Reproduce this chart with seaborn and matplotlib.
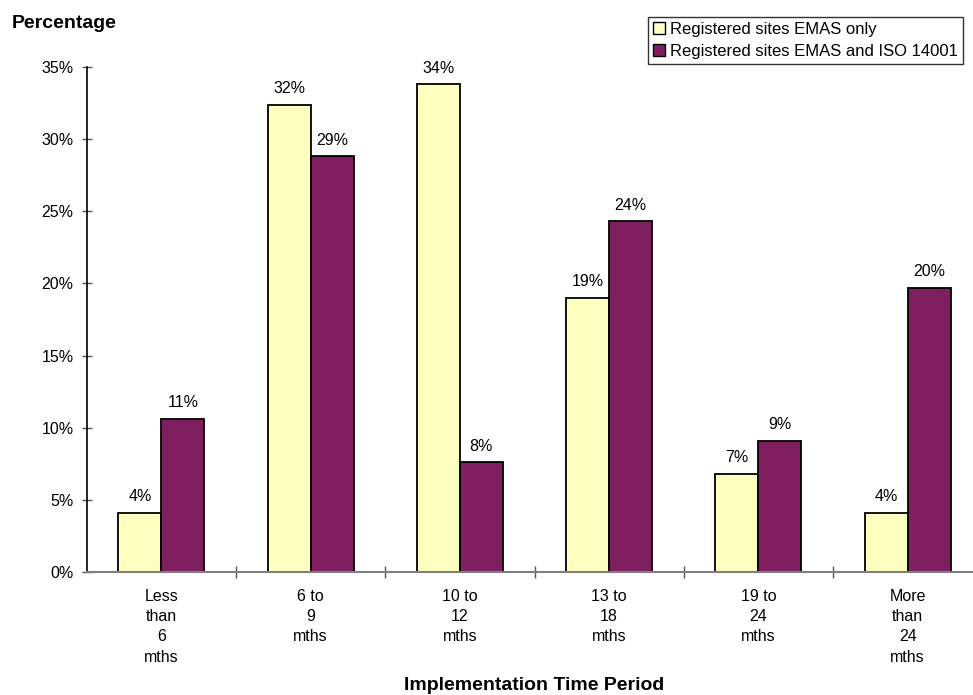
import matplotlib
matplotlib.use("Agg")
import matplotlib.pyplot as plt
import seaborn as sns
import pandas as pd
from matplotlib.ticker import FixedLocator, FuncFormatter
from matplotlib.patches import Patch

categories = ["Less\nthan\n6\nmths", "6 to\n9\nmths", "10 to\n12\nmths",
              "13 to\n18\nmths", "19 to\n24\nmths", "More\nthan\n24\nmths"]
emas_only = [4.1, 32.4, 33.8, 19.0, 6.8, 4.1]
emas_iso = [10.6, 28.8, 7.6, 24.3, 9.1, 19.7]
series_names = ["Registered sites EMAS only", "Registered sites EMAS and ISO 14001"]
colors = ["#FFFFC0", "#801F5F"]

df = pd.DataFrame({
    "cat": categories * 2,
    "val": emas_only + emas_iso,
    "series": [series_names[0]] * 6 + [series_names[1]] * 6,
})

sns.set_style("white")
plt.rcParams["font.family"] = ["Liberation Sans", "DejaVu Sans"]
plt.rcParams["text.color"] = "black"
plt.rcParams["xtick.color"] = "black"
plt.rcParams["ytick.color"] = "black"

FS = 11.5

fig = plt.figure(figsize=(9.73, 6.95), dpi=100)
ax = fig.add_axes([86.75 / 973, (695 - 572) / 695, 895.5 / 973, (572 - 67) / 695])

sns.barplot(data=df, x="cat", y="val", hue="series", order=categories,
            hue_order=series_names, palette=colors, width=0.576,
            edgecolor="black", linewidth=1.3, saturation=1, ax=ax, legend=False)

ax.set_xlim(-0.5, 5.5)
ax.set_ylim(0, 35)

for cont in ax.containers:
    for bar in cont:
        h = bar.get_height()
        ax.text(bar.get_x() + bar.get_width() / 2, h + 0.6, f"{h:.0f}%",
                ha="center", va="bottom", fontsize=FS, color="black")

ax.set_yticks(range(0, 36, 5))
ax.yaxis.set_major_formatter(FuncFormatter(lambda v, p: f"{v:.0f}%"))
ax.tick_params(axis="y", direction="inout", length=7, width=1, color="#555555",
               labelcolor="black", labelsize=FS, pad=6, left=True)
ax.set_xticks(range(6))
ax.set_xticklabels(categories, fontsize=FS, linespacing=1.45, color="black")
ax.tick_params(axis="x", which="major", length=0, pad=12)
ax.xaxis.set_minor_locator(FixedLocator([0.5, 1.5, 2.5, 3.5, 4.5]))
ax.tick_params(axis="x", which="minor", direction="inout", length=9, width=1,
               color="#555555", bottom=True)

for s in ["top", "right"]:
    ax.spines[s].set_visible(False)
ax.spines["left"].set_color("black")
ax.spines["left"].set_linewidth(1.2)
ax.spines["bottom"].set_color("#808080")
ax.spines["bottom"].set_linewidth(1.5)

ax.set_ylabel("")
ax.set_xlabel("")
fig.text(534 / 973, 1 - 686 / 695, "Implementation Time Period", fontsize=14,
         fontweight="bold", ha="center", va="center", color="black")
fig.text(12 / 973, 1 - 23 / 695, "Percentage", fontsize=14, fontweight="bold",
         ha="left", va="center", color="black")

handles = [Patch(facecolor=c, edgecolor="black", linewidth=1) for c in colors]
leg = fig.legend(handles, series_names, loc="upper right",
                 bbox_to_anchor=(963 / 973, 1 - 17 / 695), fontsize=12,
                 frameon=True, fancybox=False, edgecolor="black",
                 handlelength=0.7, handleheight=0.7, handletextpad=0.3,
                 borderpad=0.3, labelspacing=0.4, borderaxespad=0)
leg.get_frame().set_linewidth(1)

fig.savefig("out.png", dpi=100)
